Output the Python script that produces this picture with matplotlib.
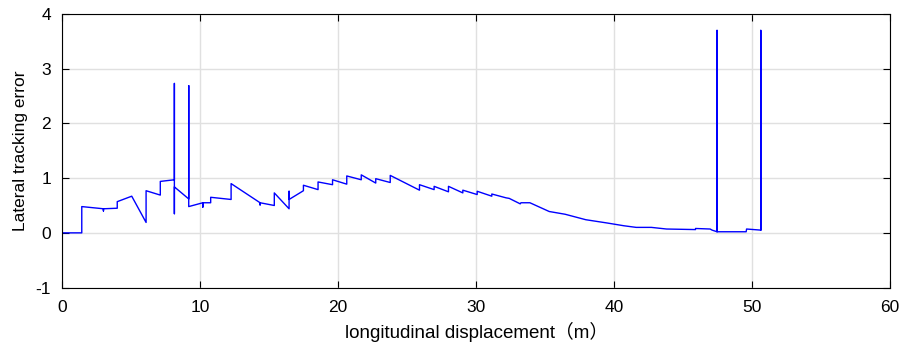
import matplotlib
matplotlib.use("Agg")
import matplotlib.pyplot as plt

plt.rcParams["font.family"] = ["Liberation Sans", "Noto Sans CJK SC", "DejaVu Sans"]
plt.rcParams["axes.unicode_minus"] = False

# lateral error trace along the path (vertical steps repeat the x value)
disp = [0, 1.43, 1.43, 3.0, 3.0, 3.0, 4.0, 4.0, 5.05, 6.09, 6.09, 7.12, 7.12,
        8.14, 8.14, 8.14, 8.14, 9.18, 9.18, 9.18, 10.2, 10.2, 10.2, 10.77, 10.77,
        12.25, 12.25, 14.35, 14.35, 14.35, 15.38, 15.38, 16.45, 16.45, 16.45,
        17.49, 17.49, 18.55, 18.55, 19.6, 19.6, 20.63, 20.63, 21.68, 21.68,
        22.73, 22.73, 23.78, 23.78, 25.9, 25.9, 26.96, 26.96, 28.0, 28.0,
        29.04, 29.04, 30.08, 30.08, 31.14, 31.14, 32.17, 32.4, 33.2, 33.25,
        33.9, 35.3, 36.45, 37.95, 39.5, 40.7, 41.6, 42.7, 43.8, 45.9, 45.9,
        46.96, 47.1, 47.46, 47.46, 47.46, 49.57, 49.6, 50.63, 50.63, 50.63]
err = [0, 0, 0.48, 0.44, 0.40, 0.44, 0.45, 0.57, 0.67, 0.19, 0.77, 0.69, 0.94,
       0.97, 2.73, 0.35, 0.84, 0.62, 2.69, 0.48, 0.55, 0.47, 0.55, 0.55, 0.65,
       0.61, 0.90, 0.55, 0.51, 0.55, 0.50, 0.73, 0.44, 0.76, 0.61,
       0.77, 0.87, 0.79, 0.93, 0.88, 0.97, 0.89, 1.04, 0.97, 1.06,
       0.91, 0.99, 0.92, 1.05, 0.78, 0.88, 0.79, 0.85, 0.75, 0.85,
       0.73, 0.78, 0.70, 0.76, 0.67, 0.71, 0.64, 0.63, 0.53, 0.55,
       0.55, 0.39, 0.34, 0.24, 0.18, 0.13, 0.10, 0.10, 0.07, 0.06, 0.08,
       0.07, 0.05, 0.02, 3.70, 0.02, 0.02, 0.07, 0.05, 3.70, 0.05]

xticks = [0, 10, 20, 30, 40, 50, 60]
yticks = [-1, 0, 1, 2, 3, 4]

fig = plt.figure(figsize=(9.15, 3.49), dpi=100)
ax = fig.add_axes([0.0678, 0.176, 0.905, 0.784])

ax.plot(disp, err, color="#0000ff", linewidth=1.0)

ax.set_xlim(0, 60)
ax.set_ylim(-1, 4)
ax.set_xticks(xticks)
ax.set_yticks(yticks)
ax.grid(True, color="#e0e0e0", linewidth=1.0)
ax.set_axisbelow(True)
ax.tick_params(direction="in", top=True, right=True, labelsize=12.5, length=5)
ax.tick_params(axis="x", pad=9)
ax.tick_params(axis="y", pad=8)
for sp in ax.spines.values():
    sp.set_linewidth(0.8)

ax.set_xlabel("longitudinal displacement（m）", fontsize=13.5, labelpad=5)
ax.set_ylabel("Lateral tracking error", fontsize=12.5, labelpad=5)

fig.savefig("out.png", dpi=100)
